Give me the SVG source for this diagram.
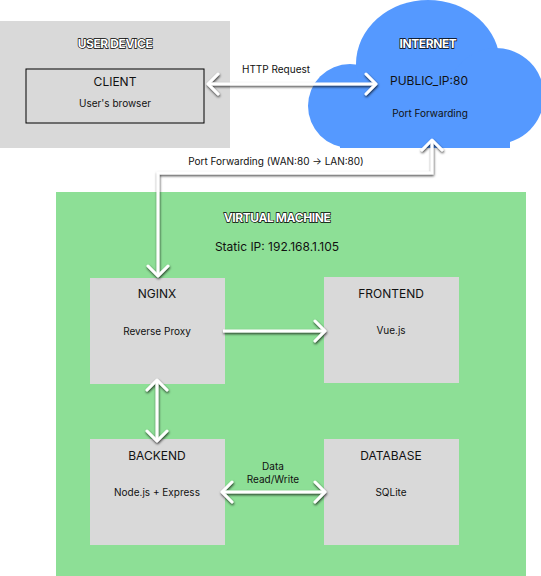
<svg xmlns="http://www.w3.org/2000/svg" width="541" height="576" viewBox="0 0 541 576">
<defs>
<style>
text{font-family:Inter,"Noto Sans","Liberation Sans",sans-serif;text-anchor:middle;fill:#111}
.title{font-size:12px;font-weight:bold;fill:#fff;stroke:#000;stroke-width:1.3px;paint-order:stroke fill;letter-spacing:-0.4px}
.name{font-size:12px}
.sub{font-size:10px}
.lbl{font-size:10px}
.box{fill:#d9d9d9}
.conn{fill:none;stroke:#fff;stroke-width:3;filter:url(#sh)}
</style>
<filter id="sh" filterUnits="userSpaceOnUse" x="0" y="0" width="541" height="576">
<feDropShadow dx="0.5" dy="1.5" stdDeviation="1.3" flood-color="#000" flood-opacity="0.75"/>
</filter>
<marker id="ah" markerUnits="userSpaceOnUse" viewBox="-12 -12 14 24" markerWidth="14" markerHeight="24" refX="0" refY="0" orient="auto-start-reverse">
<path d="M-10,-10 L0,0 L-10,10" fill="none" stroke="#fff" stroke-width="3" stroke-linecap="round" stroke-linejoin="round"/>
</marker>
</defs>
<rect width="541" height="576" fill="#fff"/>

<g id="user-device">
<rect x="0" y="21" width="230" height="127" fill="#d9d9d9"/>
<text class="title" x="115" y="48">USER DEVICE</text>
</g>
<g id="client">
<rect x="26" y="69" width="178" height="54" fill="none" stroke="#000" stroke-width="1"/>
<text class="name" x="115" y="86">CLIENT</text>
<text class="sub" x="115" y="107">User's browser</text>
</g>

<g id="internet">
<g fill="#5599ff">
<circle cx="350" cy="106" r="42"/>
<ellipse cx="428" cy="64" rx="72" ry="64"/>
<circle cx="496" cy="96" r="48"/>
<rect x="350" y="90" width="150" height="58"/>
<rect x="340" y="110" width="170" height="38"/>
</g>
<text class="title" x="428" y="48">INTERNET</text>
<text class="name" x="429" y="85">PUBLIC_IP:80</text>
<text class="sub" x="430" y="117">Port Forwarding</text>
</g>

<g id="virtual-machine">
<rect x="56" y="192" width="470" height="384" fill="#8ddf96"/>
<text class="title" x="277" y="222">VIRTUAL MACHINE</text>
<text class="name" x="277" y="251">Static IP: 192.168.1.105</text>
</g>

<g id="nginx">
<rect class="box" x="90" y="278" width="135" height="106"/>
<text class="name" x="157" y="298">NGINX</text>
<text class="sub" x="157" y="335">Reverse Proxy</text>
</g>
<g id="frontend">
<rect class="box" x="324" y="277" width="135" height="106"/>
<text class="name" x="391" y="298">FRONTEND</text>
<text class="sub" x="391" y="334">Vue.js</text>
</g>
<g id="backend">
<rect class="box" x="90" y="439" width="135" height="106"/>
<text class="name" x="157" y="460">BACKEND</text>
<text class="sub" x="157" y="496">Node.js + Express</text>
</g>
<g id="database">
<rect class="box" x="324" y="439" width="135" height="106"/>
<text class="name" x="391" y="460">DATABASE</text>
<text class="sub" x="391" y="496">SQLite</text>
</g>

<g id="connectors">
<path class="conn" d="M208,84 L376,84" marker-start="url(#ah)" marker-end="url(#ah)"/>
<text class="lbl" x="276" y="73">HTTP Request</text>
<path class="conn" d="M432,140 L432,173 L158,173 L158,276" marker-start="url(#ah)" marker-end="url(#ah)"/>
<text class="lbl" x="276" y="165">Port Forwarding (WAN:80 → LAN:80)</text>
<path class="conn" d="M223,331 L325,331" marker-end="url(#ah)"/>
<path class="conn" d="M157,380 L157,441" marker-start="url(#ah)" marker-end="url(#ah)"/>
<path class="conn" d="M222,492 L325,492" marker-start="url(#ah)" marker-end="url(#ah)"/>
<text class="lbl" x="273" y="470">Data</text>
<text class="lbl" x="273" y="483">Read/Write</text>
</g>
</svg>
